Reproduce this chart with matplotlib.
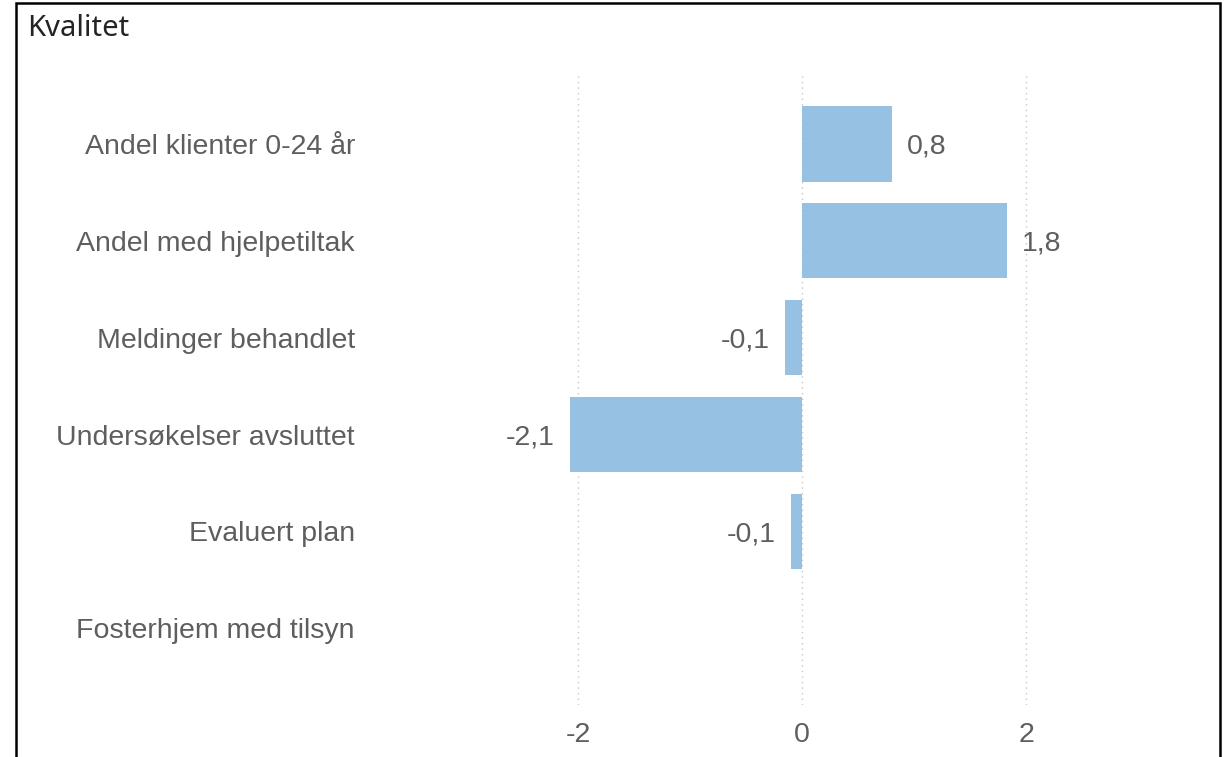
import numpy as np
import matplotlib
matplotlib.use("Agg")
from matplotlib import pyplot as plt
from matplotlib.patches import Rectangle

categories = ["Andel klienter 0-24 år", "Andel med hjelpetiltak", "Meldinger behandlet",
              "Undersøkelser avsluttet", "Evaluert plan", "Fosterhjem med tilsyn"]
values = [0.80, 1.83, -0.15, -2.07, -0.10, np.nan]
value_labels = ["0,8", "1,8", "-0,1", "-2,1", "-0,1", ""]
xticks = [-2, 0, 2]
xtick_labels = ["-2", "0", "2"]

BAR_COLOR = "#97C1E2"
TEXT_COLOR = "#605E5C"
FS = 20.5

W, H = 1224, 757
fig = plt.figure(figsize=(W / 100, H / 100), dpi=100)

# axes in pixel terms
ax_left, ax_right = 440, 1200
ax_top, ax_bottom = 72, 705
ax = fig.add_axes([ax_left / W, 1 - ax_bottom / H, (ax_right - ax_left) / W, (ax_bottom - ax_top) / H])

zero_px, unit_px = 802, 112.0
ax.set_xlim(-(zero_px - ax_left) / unit_px, (ax_right - zero_px) / unit_px)

y = np.arange(len(categories))
vals = np.array(values, dtype=float)
ax.barh(y, np.nan_to_num(vals), height=0.78, color=BAR_COLOR, zorder=2)
ax.set_ylim(len(categories) - 1 + 0.79, -0.74)

for i, (v, lab) in enumerate(zip(vals, value_labels)):
    if np.isnan(v) or not lab:
        continue
    if v >= 0:
        ax.annotate(lab, (v, i), xytext=(11, 0), textcoords="offset points",
                    ha="left", va="center_baseline", fontsize=FS, color=TEXT_COLOR,
                    family="Liberation Sans")
    else:
        ax.annotate(lab, (v, i), xytext=(-11, 0), textcoords="offset points",
                    ha="right", va="center_baseline", fontsize=FS, color=TEXT_COLOR,
                    family="Liberation Sans")

for xt in xticks:
    ax.axvline(xt, color="#C8C8C8", linestyle=(0, (1, 3)), linewidth=1, zorder=1)

ax.set_yticks(y)
ax.set_yticklabels(categories, fontsize=FS, color=TEXT_COLOR, family="Liberation Sans",
                   va="center_baseline")
ax.tick_params(axis="y", length=0, pad=(ax_left - 355) * 0.72)
ax.set_xticks(xticks)
ax.set_xticklabels(xtick_labels, fontsize=FS, color=TEXT_COLOR, family="Liberation Sans")
ax.tick_params(axis="x", length=0, pad=12)
for s in ax.spines.values():
    s.set_visible(False)

# card frame
fig.patches.append(Rectangle((16 / W, -0.05), (1220 - 16) / W, 1 - 3 / H + 0.05,
                             transform=fig.transFigure, fill=False,
                             edgecolor="black", linewidth=1.8))
fig.text(27 / W, 1 - 28 / H, "Kvalitet", fontsize=21, color="#252423",
         family="Noto Sans", va="center", ha="left")

fig.savefig("out.png", dpi=100)
